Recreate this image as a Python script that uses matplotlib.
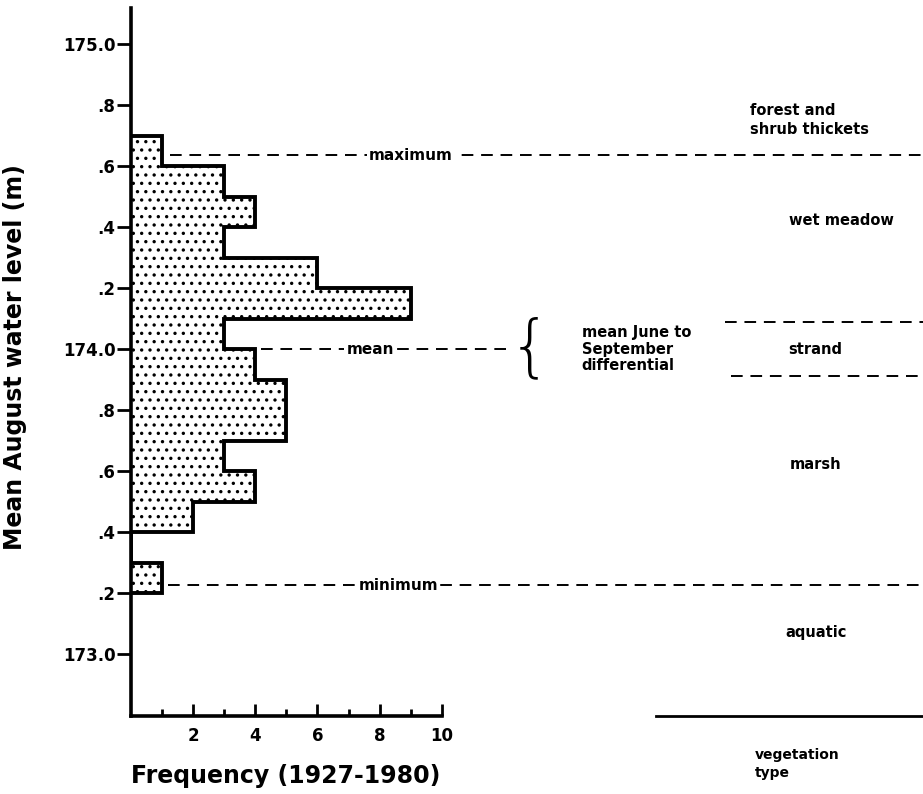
import numpy as np
import matplotlib.pyplot as plt

# histogram of mean August water level, 0.1 m bins
bin_edges = [173.2, 173.3, 173.4, 173.5, 173.6, 173.7, 173.8, 173.9,
             174.0, 174.1, 174.2, 174.3, 174.4, 174.5, 174.6, 174.7]
counts = [1, 0, 2, 4, 3, 5, 5, 4, 3, 9, 6, 3, 4, 3, 1]

ytick_vals = [173.0, 173.2, 173.4, 173.6, 173.8, 174.0, 174.2, 174.4, 174.6, 174.8, 175.0]
ytick_labels = ["173.0", ".2", ".4", ".6", ".8", "174.0", ".2", ".4", ".6", ".8", "175.0"]
xtick_major = [2, 4, 6, 8, 10]
xtick_minor = [1, 3, 5, 7, 9]

level_max = 174.635
level_mean = 174.0
level_min = 173.225
strand_top = 174.09
strand_bottom = 173.91

zones = ["forest and\nshrub thickets", "wet meadow", "strand", "marsh", "aquatic"]

plt.rcParams['font.family'] = 'DejaVu Sans'
plt.rcParams['font.weight'] = 'bold'
plt.rcParams['axes.labelweight'] = 'bold'
plt.rcParams['hatch.linewidth'] = 1.2

fig = plt.figure(figsize=(9.23, 7.94), dpi=100)
ax = fig.add_axes([130.8 / 923, 78 / 794, 792.2 / 923, 708 / 794])
ax.set_xlim(0, 25.47)
ax.set_ylim(172.797, 175.118)

# stippled fill + outline
ax.stairs(counts, bin_edges, orientation='horizontal', fill=True, hatch='..',
          facecolor='white', edgecolor='black', linewidth=0)
ax.stairs(counts, bin_edges, orientation='horizontal', fill=False,
          color='black', linewidth=2.8)

dash = (0, (6, 4))
ax.plot([1.25, 25.47], [level_max, level_max], color='black', lw=1.4, linestyle=dash, clip_on=False)
ax.plot([4.2, 12.3], [level_mean, level_mean], color='black', lw=1.4, linestyle=dash)
ax.plot([1.2, 25.47], [level_min, level_min], color='black', lw=1.4, linestyle=dash, clip_on=False)
ax.plot([19.1, 25.47], [strand_top, strand_top], color='black', lw=1.4, linestyle=dash, clip_on=False)
ax.plot([19.3, 25.47], [strand_bottom, strand_bottom], color='black', lw=1.4, linestyle=dash, clip_on=False)

box = dict(facecolor='white', edgecolor='none', pad=1.5)
ax.text(9.0, level_max, "maximum", ha='center', va='center', fontsize=11, bbox=box)
ax.text(7.7, level_mean, "mean", ha='center', va='center', fontsize=11, bbox=box)
ax.text(8.6, level_min, "minimum", ha='center', va='center', fontsize=11, bbox=box)

ax.text(12.84, 174.0, "{", ha='center', va='center', fontsize=48, fontweight='light')
ax.text(14.5, 174.0, "mean June to\nSeptember\ndifferential", ha='left', va='center',
        fontsize=10.5, linespacing=1.15)

ax.text(19.9, 174.75, zones[0], ha='left', va='center', fontsize=10.5, linespacing=1.3)
ax.text(22.86, 174.42, zones[1], ha='center', va='center', fontsize=10.5)
ax.text(22.0, 174.0, zones[2], ha='center', va='center', fontsize=10.5)
ax.text(22.0, 173.62, zones[3], ha='center', va='center', fontsize=10.5)
ax.text(22.03, 173.07, zones[4], ha='center', va='center', fontsize=10.5)

# vegetation type baseline and label
ax.plot([16.9, 25.47], [172.797, 172.797], color='black', lw=2, clip_on=False)
ax.text(20.07, 172.64, "vegetation\ntype", ha='left', va='center', fontsize=10,
        linespacing=1.3, clip_on=False)

# axes styling
ax.spines['top'].set_visible(False)
ax.spines['right'].set_visible(False)
ax.spines['left'].set_linewidth(2.6)
ax.spines['bottom'].set_linewidth(2.6)
ax.spines['bottom'].set_bounds(0, 10)

ax.set_yticks(ytick_vals)
ax.set_yticklabels(ytick_labels)
ax.tick_params(axis='y', direction='out', length=10, width=2, pad=1, labelsize=12)

ax.set_xticks(xtick_major)
ax.set_xticks(xtick_minor, minor=True)
ax.tick_params(axis='x', which='major', direction='in', length=9, width=2, pad=8, labelsize=12)
ax.tick_params(axis='x', which='minor', direction='in', length=5, width=2)

ax.set_ylabel("Mean August water level (m)", fontsize=17)
ax.yaxis.set_label_coords(-0.131, 0.507)
ax.set_xlabel("Frequency (1927-1980)", fontsize=17)
ax.xaxis.set_label_coords(0.196, -0.068)

fig.savefig("out.png", dpi=100)
